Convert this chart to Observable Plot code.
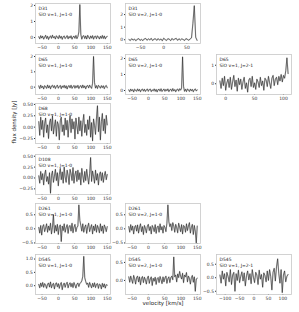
<!DOCTYPE html>
<html>
<head>
<meta charset="utf-8">
<script src="https://cdn.jsdelivr.net/npm/d3@7"></script>
<script src="https://cdn.jsdelivr.net/npm/@observablehq/plot@0.6"></script>
<style>
  html, body { margin: 0; padding: 0; background: #fff; }
  #fig { position: relative; width: 299px; height: 312px; overflow: hidden; font-family: "DejaVu Sans", sans-serif; }
  .ax { position: absolute; }
  .lbl { position: absolute; font-size: 5.5px; color: #222; white-space: nowrap; }
</style>
</head>
<body>
<div id="fig"></div>
<script>
// ---------- data ----------
const sources = ["D31", "D31", "D65", "D65", "D65", "D68", "D108", "D261", "D261", "D545", "D545", "D545"];
const transitions = ["SiO v=1, J=1-0", "SiO v=2, J=1-0", "SiO v=1, J=1-0", "SiO v=2, J=1-0", "SiO v=1, J=2-1",
  "SiO v=1, J=1-0", "SiO v=1, J=1-0", "SiO v=1, J=1-0", "SiO v=2, J=1-0", "SiO v=1, J=1-0", "SiO v=2, J=1-0", "SiO v=1, J=2-1"];
// first and last channel velocity (km/s) of each spectrum
const vFirst = [-60, -75, -60, -60, -10, -60, -60, -60, -60, -60, -60, -118];
const vLast  = [150,  72, 150, 150, 108, 150, 150, 150, 150, 150, 150,  118];

const fluxD31v1 = [0.05,-0.08,0.12,-0.03,0.09,-0.10,0.02,0.14,-0.06,0.08,
  -0.12,0.04,0.10,-0.05,0.15,-0.02,0.06,-0.09,0.11,0.03,
  -0.07,0.13,-0.04,0.08,-0.11,0.05,0.10,-0.06,0.02,0.12,
  -0.08,0.07,-0.03,0.11,-0.10,0.04,0.09,-0.05,0.13,-0.07,
  0.06,0.35,2.05,0.20,-0.10,0.08,0.12,-0.06,0.10,-0.09,
  0.14,0.02,-0.08,0.10,-0.04,0.12,-0.10,0.06,0.09,-0.07,
  0.11,0.03,-0.09,0.08,-0.05,0.13,-0.06,0.10,-0.08,0.04,
  0.07];
const fluxD31v2 = [0.02,-0.06,0.08,-0.03,0.05,-0.08,0.04,0.09,-0.05,0.03,
  -0.07,0.06,0.10,-0.04,0.07,-0.02,0.11,-0.06,0.04,0.08,
  -0.05,0.09,-0.03,0.06,-0.08,0.12,0.02,-0.06,0.08,0.04,
  -0.07,0.10,-0.02,0.06,0.11,-0.05,0.08,-0.03,0.07,0.02,
  -0.06,0.09,0.03,-0.04,0.06,0.15,1.30,2.70,0.20,-0.05];
const fluxD65v1 = [0.08,-0.10,0.13,-0.04,0.06,-0.12,0.10,0.03,-0.08,0.14,
  -0.05,0.09,-0.11,0.07,0.12,-0.03,0.10,-0.09,0.05,0.13,
  -0.07,0.04,0.11,-0.10,0.08,-0.02,0.12,-0.06,0.09,-0.12,
  0.06,0.10,-0.05,0.13,-0.08,0.03,0.11,-0.07,0.09,-0.03,
  0.12,-0.09,0.05,0.10,-0.06,0.14,-0.04,0.08,-0.11,0.07,
  0.11,-0.05,0.13,0.02,-0.08,0.25,2.00,0.30,-0.06,0.10,
  -0.09,0.12,0.04,-0.07,0.10,-0.03,0.09,-0.10,0.06,0.11,
  -0.04];
const fluxD65v2 = [0.04,-0.07,0.09,-0.02,0.06,-0.09,0.08,0.02,-0.05,0.10,
  -0.03,0.07,-0.08,0.05,0.09,-0.04,0.08,-0.06,0.03,0.10,
  -0.05,0.06,0.09,-0.07,0.04,-0.02,0.10,-0.05,0.07,-0.09,
  0.05,0.08,-0.04,0.11,-0.06,0.03,0.09,-0.05,0.07,-0.02,
  0.10,-0.07,0.04,0.08,-0.05,0.12,-0.03,0.06,-0.08,0.05,
  0.09,-0.04,0.11,0.02,0.15,2.10,0.25,-0.05,0.08,-0.07,
  0.10,0.03,-0.06,0.09,-0.02,0.07,-0.08,0.05,0.10,-0.03,
  0.04];
const fluxD65v1J21 = [0.15,-0.25,0.30,-0.10,0.40,-0.35,0.05,0.25,-0.20,0.35,
  -0.30,0.10,0.45,-0.15,0.20,-0.40,0.30,-0.05,0.25,-0.30,
  0.10,0.35,-0.25,0.05,-0.45,0.20,0.30,-0.15,0.40,-0.20,
  0.05,-0.30,0.25,0.10,-0.20,0.35,-0.10,0.15,-0.35,0.30,
  0.20,-0.15,0.40,0.05,-0.25,0.30,0.45,-0.10,0.25,0.35,
  -0.05,0.40,0.15,0.50,0.10,0.45,0.30,0.70,1.40,0.55];
const fluxD68v1 = [0.12,-0.18,0.22,-0.05,0.15,-0.22,0.08,0.20,-0.12,0.05,
  -0.25,0.10,0.18,-0.08,0.25,-0.15,0.02,0.16,-0.20,0.12,
  0.06,-0.28,0.14,0.22,-0.10,0.05,-0.18,0.20,-0.06,0.15,
  -0.22,0.08,0.25,-0.12,0.18,-0.04,0.12,-0.26,0.20,0.02,
  -0.15,0.22,-0.08,0.14,-0.20,0.10,0.28,-0.12,0.06,-0.18,
  0.16,-0.05,0.24,-0.22,0.10,-0.30,0.18,0.04,-0.16,0.20,
  0.47,-0.10,0.22,-0.28,0.12,0.30,-0.08,0.18,-0.14,0.26,
  0.05];
const fluxD108v1 = [0.05,-0.12,0.15,-0.04,0.10,-0.16,0.08,0.18,-0.08,0.03,
  -0.14,0.12,-0.35,0.06,0.16,-0.10,0.04,0.20,-0.06,0.12,
  -0.18,0.08,0.22,-0.04,0.14,-0.12,0.25,0.02,-0.10,0.18,
  0.06,-0.15,0.20,0.10,-0.06,0.24,-0.12,0.08,0.16,-0.08,
  0.18,-0.04,0.12,-0.16,0.22,0.05,-0.10,0.15,-0.06,0.20,
  0.02,-0.14,0.10,0.47,-0.08,0.16,0.04,-0.12,0.18,-0.05,
  0.10,-0.16,0.08,0.14,-0.06,0.12,-0.10,0.06,0.15,-0.04,
  0.08];
const fluxD261v1 = [0.05,-0.15,0.12,-0.22,0.08,0.15,-0.10,0.03,0.18,-0.12,
  0.10,-0.05,0.20,-0.18,0.06,0.50,-0.14,0.12,-0.08,0.16,
  -0.20,0.08,0.14,-0.45,0.10,-0.06,0.18,-0.12,0.04,0.15,
  -0.16,0.09,0.12,-0.08,0.20,-0.14,0.06,0.16,-0.10,0.05,
  0.10,0.85,0.30,0.12,-0.08,0.18,-0.12,0.06,0.14,-0.16,
  0.08,0.20,-0.10,0.04,0.15,-0.18,0.10,-0.06,0.16,-0.12,
  0.12,0.02,-0.14,0.18,-0.08,0.10,-0.16,0.14,0.05,-0.10,
  0.08];
const fluxD261v2 = [0.08,-0.12,0.15,-0.05,0.10,-0.18,0.06,0.12,-0.08,0.14,
  -0.15,0.05,0.18,-0.10,0.08,-0.20,0.12,0.02,-0.14,0.10,
  0.16,-0.06,0.08,-0.18,0.12,0.04,-0.10,0.15,-0.16,0.06,
  0.10,-0.12,0.18,-0.04,0.08,-0.15,0.12,0.05,-0.10,0.20,
  0.85,0.25,0.08,0.18,-0.06,0.22,0.10,-0.12,0.16,0.04,
  -0.14,0.20,0.06,-0.10,0.15,-0.18,0.12,0.08,-0.12,0.18,
  -0.06,0.10,0.22,-0.15,0.05,0.16,-0.20,0.12,-0.08,-0.50,
  0.10];
const fluxD545v1 = [0.05,-0.08,0.10,-0.03,0.12,-0.06,0.08,0.02,-0.10,0.06,
  0.10,-0.05,0.14,-0.08,0.04,0.09,-0.12,0.06,0.11,-0.04,
  0.08,-0.10,0.05,0.12,-0.15,0.03,0.10,-0.06,0.07,0.13,
  -0.08,0.05,0.11,-0.04,0.09,-0.07,0.12,0.02,-0.09,0.06,
  0.10,-0.03,0.08,0.12,0.18,0.35,1.10,0.30,0.16,0.05,
  0.10,-0.06,0.12,0.02,-0.08,0.09,-0.04,0.11,-0.07,0.05,
  0.08,-0.10,0.06,0.03,-0.12,0.09,-0.05,0.07,-0.09,0.04,
  0.02];
const fluxD545v2 = [0.10,-0.05,0.12,0.02,-0.08,0.14,0.05,-0.10,0.08,0.12,
  -0.04,0.10,-0.12,0.06,0.11,-0.06,0.09,0.02,-0.10,0.07,
  0.12,-0.08,0.04,0.10,-0.14,0.06,-0.02,0.09,-0.11,0.05,
  0.08,-0.06,0.11,0.02,-0.09,0.10,-0.04,0.07,0.12,-0.08,
  0.05,0.10,-0.06,0.08,0.12,0.02,0.65,0.10,0.15,-0.04,
  0.18,0.08,0.25,0.12,0.04,0.20,-0.06,0.15,0.10,0.22,
  -0.04,0.12,0.06,-0.10,0.08,0.14,-0.05,0.10,-0.30,0.04,
  0.06];
const fluxD545v1J21 = [0.10,-0.20,0.25,-0.05,0.15,-0.30,0.20,0.05,-0.15,0.30,
  -0.25,0.10,0.20,-0.50,0.15,-0.10,0.28,-0.18,0.05,0.22,
  -0.12,0.18,-0.30,0.08,0.25,-0.08,0.15,-0.22,0.30,0.02,
  -0.18,0.20,0.10,-0.25,0.28,-0.05,0.12,-0.35,0.18,0.08,
  -0.15,0.25,-0.10,0.30,0.05,-0.45,0.20,0.35,-0.12,0.40,
  0.70,0.15,-0.20,0.30,-0.55,0.10,0.25,-0.15,0.05,0.12];

const fluxes = [fluxD31v1, fluxD31v2, fluxD65v1, fluxD65v2, fluxD65v1J21, fluxD68v1,
  fluxD108v1, fluxD261v1, fluxD261v2, fluxD545v1, fluxD545v2, fluxD545v1J21];

// tick values
const xTicksA = [-50, 0, 50, 100, 150];
const xTicksB = [-50, 0, 50];
const xTicksC = [0, 50, 100];
const xTicksD = [-100, -50, 0, 50, 100];
const yTicksJy = [0, 1, 2];
const yTicksJy01 = [0, 1];
const yTicksQuarter = [-0.25, 0, 0.25, 0.5];
const yTicksHalf = [-0.5, 0, 0.5];
const yTicksHalfPos = [0, 0.5, 1.0];
const yTicksHalfSmall = [0, 0.5];

// ---------- layout ----------
const colL = [35, 125, 216];
const rowT = [3, 54, 103, 154, 203, 254];
const W = 75, H = 40;
const fInt = d3.format("d"), f1 = d3.format(".1f"), f2 = d3.format(".2f");
const layout = [
  {c: 0, r: 0, xd: [-70, 160], xt: xTicksA, yd: [-0.37, 2.12], yt: yTicksJy, yf: fInt},
  {c: 1, r: 0, xd: [-82.4, 79.4], xt: xTicksB, yd: [-0.3, 2.88], yt: yTicksJy, yf: fInt},
  {c: 0, r: 1, xd: [-70, 160], xt: xTicksA, yd: [-0.48, 2.13], yt: yTicksJy, yf: fInt},
  {c: 1, r: 1, xd: [-70, 160], xt: xTicksA, yd: [-0.25, 2.25], yt: yTicksJy, yf: fInt},
  {c: 2, r: 1, xd: [-15.9, 113.9], xt: xTicksC, yd: [-0.58, 1.58], yt: yTicksJy01, yf: fInt},
  {c: 0, r: 2, xd: [-70, 160], xt: xTicksA, yd: [-0.36, 0.52], yt: yTicksQuarter, yf: f2},
  {c: 0, r: 3, xd: [-70, 160], xt: xTicksA, yd: [-0.38, 0.54], yt: yTicksQuarter, yf: f2},
  {c: 0, r: 4, xd: [-70, 160], xt: xTicksA, yd: [-0.52, 0.9], yt: yTicksHalf, yf: f1},
  {c: 1, r: 4, xd: [-70, 160], xt: xTicksA, yd: [-0.52, 0.9], yt: yTicksHalf, yf: f1},
  {c: 0, r: 5, xd: [-70, 160], xt: xTicksA, yd: [-0.33, 1.17], yt: yTicksHalfPos, yf: f1},
  {c: 1, r: 5, xd: [-70, 160], xt: xTicksA, yd: [-0.39, 0.72], yt: yTicksHalfSmall, yf: f1},
  {c: 2, r: 5, xd: [-130, 130], xt: xTicksD, yd: [-0.62, 0.86], yt: yTicksHalf, yf: f1}
];

const ML = 22, MR = 4, MT = 1, MB = 11;
const fig = document.getElementById("fig");

fluxes.forEach((flux, k) => {
  const L = layout[k];
  const n = flux.length;
  const step = (vLast[k] - vFirst[k]) / (n - 1);
  const data = flux.map((f, i) => ({v: vFirst[k] + i * step, f}));
  const label = [sources[k] + "\n" + transitions[k]];
  const chart = Plot.plot({
    width: W + ML + MR, height: H + MT + MB,
    marginLeft: ML, marginRight: MR, marginTop: MT, marginBottom: MB,
    style: {fontFamily: "DejaVu Sans", fontSize: "4.5px", color: "#333", background: "transparent", overflow: "visible"},
    x: {domain: L.xd, ticks: L.xt, tickFormat: fInt, tickSize: 1, tickPadding: 1.5, label: null},
    y: {domain: L.yd, ticks: L.yt, tickFormat: L.yf, tickSize: 1, tickPadding: 1.5, label: null},
    marks: [
      Plot.frame({stroke: "#c8c8c8", strokeWidth: 0.8}),
      Plot.line(data, {x: "v", y: "f", stroke: "#888", strokeWidth: 1.3, strokeOpacity: 0.45}),
      Plot.line(data, {x: "v", y: "f", stroke: "#111", strokeWidth: 0.5}),
      Plot.text(label, {text: d => d, frameAnchor: "top-left", dx: 3, dy: 2, fontSize: 4.5, lineHeight: 1.3, fill: "#222"})
    ]
  });
  const div = document.createElement("div");
  div.className = "ax";
  div.style.left = (colL[L.c] - ML) + "px";
  div.style.top = (rowT[L.r] - MT) + "px";
  div.append(chart);
  fig.append(div);
});

const yl = document.createElement("div");
yl.className = "lbl";
yl.textContent = "flux density [Jy]";
yl.style.left = "14px"; yl.style.top = "122px";
yl.style.transform = "translate(-50%, -50%) rotate(-90deg)";
fig.append(yl);

const xl = document.createElement("div");
xl.className = "lbl";
xl.textContent = "velocity [km/s]";
xl.style.left = "163px"; xl.style.top = "303px";
xl.style.transform = "translate(-50%, -50%)";
fig.append(xl);
</script>
</body>
</html>
